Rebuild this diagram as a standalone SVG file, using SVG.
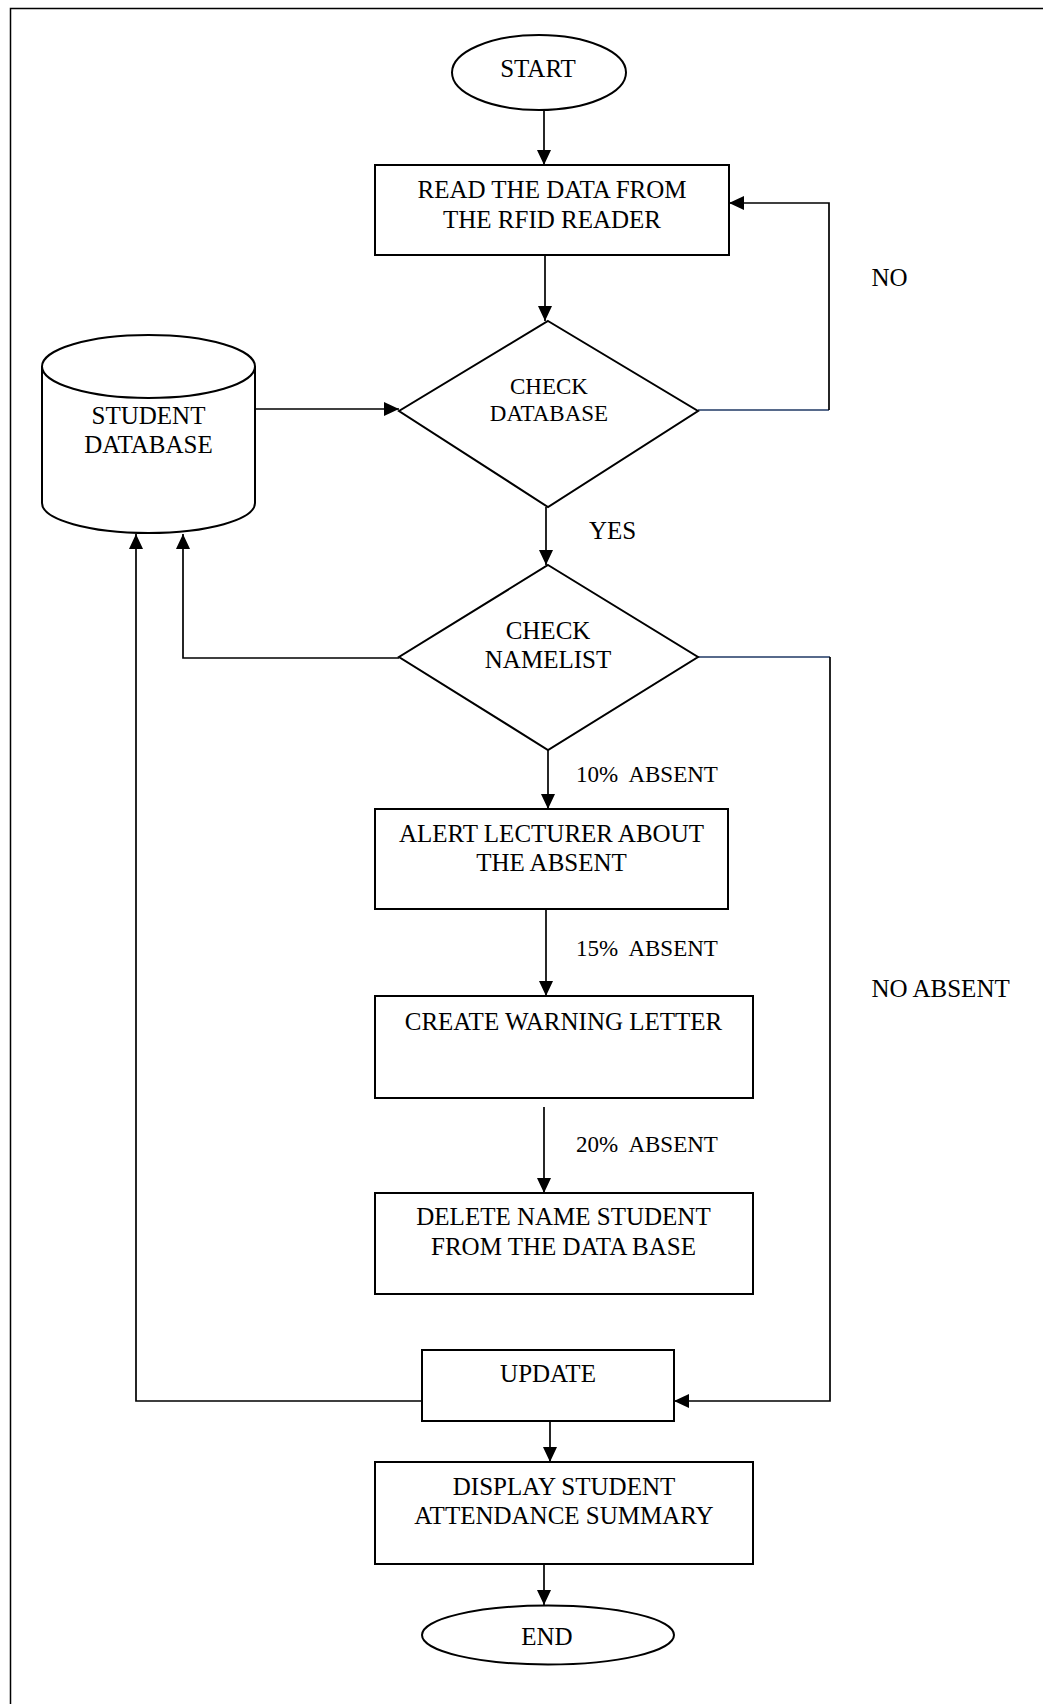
<svg xmlns="http://www.w3.org/2000/svg" width="1043" height="1704" viewBox="0 0 1043 1704">
<style>
text{font-family:"Liberation Serif","Times New Roman",serif;fill:#000;text-anchor:middle;font-size:25px}
.sm{font-size:23px}
.lbl{text-anchor:start;white-space:pre}
.box{fill:#fff;stroke:#000;stroke-width:2}
.ln{fill:none;stroke:#000;stroke-width:1.7}
.blue{fill:none;stroke:#1f3864;stroke-width:1.7}
</style>
<defs>
<marker id="ah" markerUnits="userSpaceOnUse" markerWidth="15" markerHeight="14" refX="15" refY="7" orient="auto">
<path d="M0,0 L15,7 L0,14 z" fill="#000"/>
</marker>
</defs>
<rect width="1043" height="1704" fill="#fff"/>
<path d="M10.5,1704 V8.5 H1043" fill="none" stroke="#000" stroke-width="1.5"/>

<g id="connectors">
<path class="ln" d="M544,110 V165" marker-end="url(#ah)"/>
<path class="ln" d="M545,255 V321" marker-end="url(#ah)"/>
<path class="ln" d="M255,409 H399" stroke-width="2" marker-end="url(#ah)"/>
<path class="blue" d="M698,410 H829"/>
<path class="ln" d="M829,410 V203 H729" marker-end="url(#ah)"/>
<path class="ln" d="M546,507 V565" marker-end="url(#ah)"/>
<path class="ln" d="M399,658 H183 V534" stroke-width="1.9" marker-end="url(#ah)"/>
<path class="blue" d="M698,657 H830"/>
<path class="ln" d="M830,657 V1401 H674" marker-end="url(#ah)"/>
<path class="ln" d="M548,750 V809" marker-end="url(#ah)"/>
<path class="ln" d="M546,910 V996" marker-end="url(#ah)"/>
<path class="ln" d="M544,1107 V1193" marker-end="url(#ah)"/>
<path class="ln" d="M422,1401 H136 V534" marker-end="url(#ah)"/>
<path class="ln" d="M550,1421 V1462" marker-end="url(#ah)"/>
<path class="ln" d="M544,1564 V1605" marker-end="url(#ah)"/>
</g>

<g id="start">
<ellipse class="box" cx="539" cy="72.5" rx="87" ry="37.5" stroke-width="1.6"/>
<text x="538" y="77">START</text>
</g>

<g id="read">
<rect class="box" x="375" y="165" width="354" height="90"/>
<text x="552" y="198">READ THE DATA FROM</text>
<text x="552" y="228">THE RFID READER</text>
</g>

<g id="student-db">
<path class="box" d="M42,366 V503 A106.5,30 0 0 0 255,503 V366" />
<ellipse class="box" cx="148.5" cy="366.5" rx="106.5" ry="31.5"/>
<text x="148.5" y="424">STUDENT</text>
<text x="148.5" y="453">DATABASE</text>
</g>

<g id="check-db">
<polygon class="box" points="548,321 698,411 548,507 399,411" stroke-width="1.6"/>
<text class="sm" x="549" y="394">CHECK</text>
<text class="sm" x="549" y="421">DATABASE</text>
</g>

<g id="check-namelist">
<polygon class="box" points="548,565 698,657 548,750 399,657" stroke-width="1.6"/>
<text x="548" y="639">CHECK</text>
<text x="548" y="668">NAMELIST</text>
</g>

<g id="alert">
<rect class="box" x="375" y="809" width="353" height="100"/>
<text x="551.5" y="842">ALERT LECTURER ABOUT</text>
<text x="551.5" y="871">THE ABSENT</text>
</g>

<g id="create">
<rect class="box" x="375" y="996" width="378" height="102"/>
<text x="563.5" y="1030">CREATE WARNING LETTER</text>
</g>

<g id="delete">
<rect class="box" x="375" y="1193" width="378" height="101"/>
<text x="563.5" y="1225">DELETE NAME STUDENT</text>
<text x="563.5" y="1255">FROM THE DATA BASE</text>
</g>

<g id="update">
<rect class="box" x="422" y="1350" width="252" height="71"/>
<text x="548" y="1382">UPDATE</text>
</g>

<g id="display">
<rect class="box" x="375" y="1462" width="378" height="102"/>
<text x="564" y="1495">DISPLAY STUDENT</text>
<text x="564" y="1524">ATTENDANCE SUMMARY</text>
</g>

<g id="end">
<ellipse class="box" cx="548" cy="1635" rx="126" ry="29.5" stroke-width="1.6"/>
<text x="547" y="1645">END</text>
</g>

<g id="labels">
<text class="lbl" x="871.5" y="286">NO</text>
<text class="lbl" x="589" y="539">YES</text>
<text class="lbl sm" x="576" y="782">10%  ABSENT</text>
<text class="lbl sm" x="576" y="956">15%  ABSENT</text>
<text class="lbl sm" x="576" y="1152">20%  ABSENT</text>
<text class="lbl" x="871.5" y="997">NO ABSENT</text>
</g>
</svg>
